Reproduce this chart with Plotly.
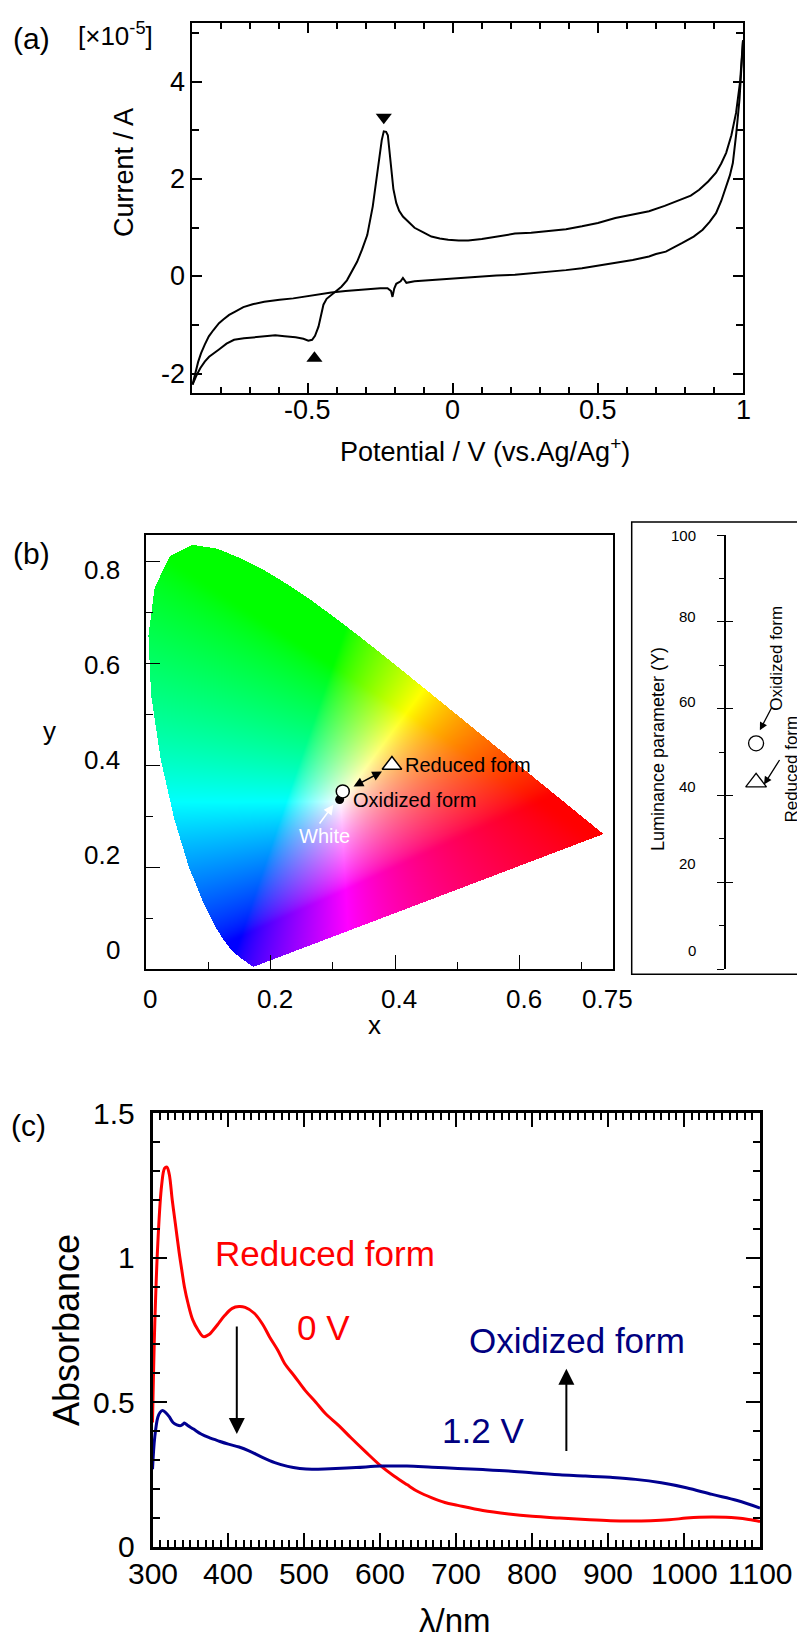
import numpy as np, zlib, struct, base64
import plotly.graph_objects as go

W, H = 797, 1641
FONT = "Liberation Sans, Arial, sans-serif"

# ---------------- (a) cyclic voltammogram (current in 1e-5 A) ----------------
cv_fwd_E = [-0.897, -0.885, -0.87, -0.855, -0.84, -0.82, -0.806, -0.78, -0.754, -0.72, -0.683, -0.65,
            -0.612, -0.58, -0.542, -0.515, -0.498, -0.485, -0.475, -0.463, -0.455, -0.446, -0.435,
            -0.419, -0.40, -0.384, -0.365, -0.348, -0.33, -0.313, -0.295, -0.276, -0.265, -0.253,
            -0.245, -0.238, -0.230, -0.224, -0.213, -0.205, -0.195, -0.185, -0.172, -0.15, -0.132,
            -0.10, -0.074, -0.045, -0.016, 0.02, 0.053, 0.10, 0.15, 0.214, 0.27, 0.33, 0.39, 0.445,
            0.50, 0.56, 0.62, 0.676, 0.73, 0.79, 0.82, 0.849, 0.88, 0.907, 0.925, 0.942, 0.96,
            0.976, 0.99, 1.0]
cv_fwd_I = [-2.22, -2.05, -1.88, -1.75, -1.65, -1.55, -1.50, -1.38, -1.30, -1.27, -1.25, -1.23,
            -1.21, -1.23, -1.25, -1.28, -1.32, -1.30, -1.22, -1.03, -0.80, -0.58, -0.46,
            -0.38, -0.30, -0.21, -0.08, 0.10, 0.30, 0.55, 0.85, 1.44, 1.95, 2.40,
            2.80, 2.98, 2.97, 2.90, 2.26, 1.80, 1.51, 1.35, 1.23, 1.10, 1.00,
            0.90, 0.82, 0.78, 0.755, 0.74, 0.74, 0.77, 0.82, 0.88, 0.90, 0.93, 0.97, 1.03,
            1.10, 1.20, 1.27, 1.34, 1.45, 1.58, 1.66, 1.78, 1.95, 2.13, 2.32, 2.54, 2.90,
            3.36, 4.0, 4.85]
cv_rev_E = [1.0, 0.994, 0.988, 0.977, 0.965, 0.955, 0.942, 0.925, 0.907, 0.885, 0.861, 0.83,
            0.791, 0.76, 0.734, 0.70, 0.676, 0.62, 0.561, 0.50, 0.445, 0.39, 0.33, 0.27, 0.214,
            0.15, 0.099, 0.04, -0.016, -0.07, -0.132, -0.16, -0.172, -0.18, -0.195, -0.202,
            -0.208, -0.213, -0.225, -0.25, -0.29, -0.331, -0.37, -0.419, -0.46, -0.509, -0.55,
            -0.597, -0.65, -0.69, -0.722, -0.75, -0.771, -0.79, -0.806, -0.825, -0.841, -0.855,
            -0.868, -0.878, -0.885, -0.892, -0.897]
cv_rev_I = [4.85, 4.3, 3.64, 2.95, 2.33, 2.08, 1.85, 1.55, 1.30, 1.12, 0.96, 0.82,
            0.69, 0.59, 0.51, 0.46, 0.41, 0.34, 0.28, 0.22, 0.17, 0.13, 0.10, 0.07, 0.035,
            0.02, 0.0, -0.03, -0.05, -0.08, -0.10, -0.13, -0.03, -0.10, -0.15, -0.25,
            -0.42, -0.30, -0.24, -0.24, -0.26, -0.27, -0.30, -0.33, -0.37, -0.41, -0.45,
            -0.48, -0.52, -0.57, -0.63, -0.72, -0.79, -0.88, -0.96, -1.10, -1.23, -1.40,
            -1.58, -1.76, -1.92, -2.08, -2.22]
ox_peak_E, ox_peak_I = [-0.238], [3.27]
red_peak_E, red_peak_I = [-0.477], [-1.68]
a_xticks = [-0.5, 0, 0.5, 1]
a_xlabels = ["-0.5", "0", "0.5", "1"]
a_yticks = [-2, 0, 2, 4]
a_ylabels = ["-2", "0", "2", "4"]

# ---------------- (b) CIE 1931 chromaticity ----------------
locus_x = [0.1741, 0.1740, 0.1738, 0.1736, 0.1733, 0.1730, 0.1726, 0.1721, 0.1714, 0.1703, 0.1689,
           0.1669, 0.1644, 0.1611, 0.1566, 0.1510, 0.1440, 0.1355, 0.1241, 0.1096, 0.0913, 0.0687,
           0.0454, 0.0235, 0.0082, 0.0039, 0.0139, 0.0389, 0.0743, 0.1142, 0.1547, 0.1929, 0.2296,
           0.2658, 0.3016, 0.3373, 0.3731, 0.4087, 0.4441, 0.4788, 0.5125, 0.5448, 0.5752, 0.6029,
           0.6270, 0.6482, 0.6658, 0.6801, 0.6915, 0.7006, 0.7079, 0.7140, 0.7190, 0.7230, 0.7260,
           0.7283, 0.7300, 0.7311, 0.7320, 0.7334, 0.7344, 0.7347]
locus_y = [0.0050, 0.0050, 0.0049, 0.0049, 0.0048, 0.0048, 0.0048, 0.0048, 0.0051, 0.0058, 0.0069,
           0.0086, 0.0109, 0.0138, 0.0177, 0.0227, 0.0297, 0.0399, 0.0578, 0.0868, 0.1327, 0.2007,
           0.2950, 0.4127, 0.5384, 0.6548, 0.7502, 0.8120, 0.8338, 0.8262, 0.8059, 0.7816, 0.7543,
           0.7243, 0.6923, 0.6589, 0.6245, 0.5896, 0.5547, 0.5202, 0.4866, 0.4544, 0.4242, 0.3965,
           0.3725, 0.3514, 0.3340, 0.3197, 0.3083, 0.2993, 0.2920, 0.2859, 0.2809, 0.2770, 0.2740,
           0.2717, 0.2700, 0.2689, 0.2680, 0.2666, 0.2656, 0.2653]
white_xy = [0.311, 0.333]
oxidized_xy = [0.316, 0.349]
reduced_xy = [0.395, 0.401]
lum_Y_oxidized = 52
lum_Y_reduced = 43
b_xticks = [0, 0.2, 0.4, 0.6, 0.75]
b_xlabels = ["0", "0.2", "0.4", "0.6", "0.75"]
b_yticks = [0, 0.2, 0.4, 0.6, 0.8]
b_ylabels = ["0", "0.2", "0.4", "0.6", "0.8"]
lum_ticks = [0, 20, 40, 60, 80, 100]
lum_labels = ["0", "20", "40", "60", "80", "100"]

# ---------------- (c) absorption spectra ----------------
wl_red = [300, 303, 307, 312, 316, 319, 322, 326, 330, 335, 339, 342, 347, 353, 360, 367, 375, 380,
          387, 395, 405, 414, 422, 434, 445, 454, 465, 474, 487, 501, 515, 528, 545, 561, 580, 601,
          618, 635, 650, 668, 685, 702, 735, 769, 800, 836, 870, 903, 930, 956, 980, 1003, 1020,
          1037, 1055, 1070, 1085, 1100]
abs_red = [0.43, 0.77, 1.05, 1.25, 1.31, 1.314, 1.29, 1.20, 1.12, 1.02, 0.95, 0.90, 0.84, 0.785,
           0.75, 0.727, 0.735, 0.75, 0.773, 0.80, 0.825, 0.831, 0.828, 0.808, 0.77, 0.727, 0.68,
           0.634, 0.59, 0.541, 0.50, 0.46, 0.42, 0.378, 0.33, 0.279, 0.245, 0.215, 0.19, 0.169,
           0.153, 0.143, 0.125, 0.113, 0.105, 0.099, 0.094, 0.09, 0.089, 0.09, 0.093, 0.099, 0.102,
           0.103, 0.102, 0.099, 0.094, 0.0875]
wl_blue = [300, 303, 307, 310, 313, 317, 322, 327, 332, 337, 340, 342, 346, 354, 364, 374, 388, 400,
           414, 427, 444, 461, 478, 494, 510, 534, 568, 601, 635, 668, 702, 735, 769, 802, 836, 870,
           903, 936, 970, 1003, 1037, 1070, 1100]
abs_blue = [0.268, 0.38, 0.448, 0.465, 0.471, 0.465, 0.45, 0.43, 0.422, 0.419, 0.424, 0.428, 0.42,
            0.407, 0.39, 0.378, 0.365, 0.355, 0.345, 0.332, 0.31, 0.291, 0.278, 0.271, 0.268, 0.27,
            0.274, 0.279, 0.279, 0.275, 0.271, 0.267, 0.262, 0.255, 0.249, 0.245, 0.240, 0.233,
            0.221, 0.204, 0.181, 0.16, 0.134]
c_xticks = [300, 400, 500, 600, 700, 800, 900, 1000, 1100]
c_yticks = [0, 0.5, 1, 1.5]
c_ylabels = ["0", "0.5", "1", "1.5"]


def px(x):
    return x / W


def py(y):
    return 1 - y / H


# ---------------- CIE background image ----------------
CIE_XR, CIE_YR = [0, 0.75], [0, 0.853]
NX, NY = 467, 434
gx = (np.arange(NX) + 0.5) / NX * CIE_XR[1]
gy = CIE_YR[1] - (np.arange(NY) + 0.5) / NY * CIE_YR[1]
X, Y = np.meshgrid(gx, gy)
poly = np.array(list(zip(locus_x, locus_y)))
inside = np.zeros(X.shape, bool)
n = len(poly)
for i in range(n):
    x1, y1 = poly[i]
    x2, y2 = poly[(i + 1) % n]
    if y1 == y2:
        continue
    cond = ((y1 > Y) != (y2 > Y)) & (X < (x2 - x1) * (Y - y1) / (y2 - y1) + x1)
    inside ^= cond
Ys = np.maximum(Y, 1e-4)
Xv = X / Ys
Zv = (1 - X - Y) / Ys
r = 3.2406 * Xv - 1.5372 - 0.4986 * Zv
g = -0.9689 * Xv + 1.8758 + 0.0415 * Zv
b = 0.0557 * Xv - 0.2040 + 1.0570 * Zv
rgb = np.clip(np.stack([r, g, b], -1), 0, None)
rgb = rgb / np.maximum(rgb.max(-1, keepdims=True), 1e-9)
rgb = rgb ** 1.5
rgb = np.where(rgb <= 0.0031308, 12.92 * rgb, 1.055 * np.power(rgb, 1 / 2.4) - 0.055)
rgba = np.zeros((NY, NX, 4), np.uint8)
rgba[..., :3] = np.clip(rgb * 255 + 0.5, 0, 255).astype(np.uint8)
rgba[..., 3] = np.where(inside, 255, 0)


def png_uri(arr):
    h, w, _ = arr.shape
    raw = b"".join(b"\x00" + arr[i].tobytes() for i in range(h))

    def chunk(t, d):
        return struct.pack(">I", len(d)) + t + d + struct.pack(">I", zlib.crc32(t + d) & 0xffffffff)

    data = (b"\x89PNG\r\n\x1a\n" + chunk(b"IHDR", struct.pack(">IIBBBBB", w, h, 8, 6, 0, 0, 0))
            + chunk(b"IDAT", zlib.compress(raw, 9)) + chunk(b"IEND", b""))
    return "data:image/png;base64," + base64.b64encode(data).decode()


fig = go.Figure()

# (a)
fig.add_trace(go.Scatter(x=cv_fwd_E, y=cv_fwd_I, mode="lines", line=dict(color="black", width=2),
                         xaxis="x", yaxis="y"))
fig.add_trace(go.Scatter(x=cv_rev_E, y=cv_rev_I, mode="lines", line=dict(color="black", width=2),
                         xaxis="x", yaxis="y"))
fig.add_trace(go.Scatter(x=ox_peak_E, y=ox_peak_I, mode="markers",
                         marker=dict(symbol="triangle-down", size=14, color="black"), xaxis="x", yaxis="y"))
fig.add_trace(go.Scatter(x=red_peak_E, y=red_peak_I, mode="markers",
                         marker=dict(symbol="triangle-up", size=14, color="black"), xaxis="x", yaxis="y"))

# (b) CIE points
fig.add_trace(go.Scatter(x=[white_xy[0]], y=[white_xy[1]], mode="markers",
                         marker=dict(symbol="circle", size=9, color="black"), xaxis="x2", yaxis="y2"))
fig.add_trace(go.Scatter(x=[oxidized_xy[0]], y=[oxidized_xy[1]], mode="markers",
                         marker=dict(symbol="circle", size=13, color="white", line=dict(color="black", width=1.5)),
                         xaxis="x2", yaxis="y2"))
fig.add_trace(go.Scatter(x=[reduced_xy[0]], y=[reduced_xy[1]], mode="markers",
                         marker=dict(symbol="triangle-up", size=17, color="white", line=dict(color="black", width=1.5)),
                         xaxis="x2", yaxis="y2"))

# (b) luminance
fig.add_trace(go.Scatter(x=[0.752], y=[lum_Y_oxidized], mode="markers",
                         marker=dict(symbol="circle-open", size=15, color="black", line=dict(width=1.3)),
                         xaxis="x3", yaxis="y3"))
fig.add_trace(go.Scatter(x=[0.752], y=[lum_Y_reduced], mode="markers",
                         marker=dict(symbol="triangle-up-open", size=18, color="black", line=dict(width=1.3)),
                         xaxis="x3", yaxis="y3"))
fig.add_trace(go.Scatter(x=[None], y=[None], xaxis="x3", yaxis="y4", hoverinfo="skip"))

# (c)
fig.add_trace(go.Scatter(x=wl_red, y=abs_red, mode="lines", line=dict(color="#ff0000", width=3, shape="spline"),
                         xaxis="x4", yaxis="y6"))
fig.add_trace(go.Scatter(x=wl_blue, y=abs_blue, mode="lines", line=dict(color="#000090", width=3, shape="spline"),
                         xaxis="x4", yaxis="y6"))

common = dict(showgrid=False, zeroline=False, linecolor="black", tickcolor="black", automargin=False,
              showticklabels=False)

layout = dict(
    template="none",
    width=W, height=H, autosize=False, margin=dict(l=0, r=0, t=0, b=0, pad=0),
    paper_bgcolor="white", plot_bgcolor="rgba(0,0,0,0)", showlegend=False,
    font=dict(family=FONT, color="black"),
    xaxis=dict(**common, domain=[px(191.7), px(743)], range=[-0.9, 1.0], anchor="y",
               showline=True, linewidth=2, mirror="allticks", ticks="inside", tick0=0, dtick=0.5,
               ticklen=10, tickwidth=1.5, minor=dict(dtick=0.1, ticklen=6, tickwidth=1.5, ticks="inside")),
    yaxis=dict(**common, domain=[py(393.3), py(23.3)], range=[-2.4, 5.2], anchor="x",
               showline=True, linewidth=2, mirror="allticks", ticks="inside", tick0=0, dtick=2,
               ticklen=10, tickwidth=1.5, minor=dict(dtick=1, ticklen=7, tickwidth=1.5, ticks="inside")),
    xaxis2=dict(**common, domain=[px(146), px(613)], range=CIE_XR, anchor="y2",
                showline=True, linewidth=1.5, mirror=True, ticks="inside",
                tickvals=b_xticks, ticklen=14, tickwidth=1.3,
                minor=dict(tickvals=[0.1, 0.3, 0.5, 0.7], ticklen=7, tickwidth=1.3, ticks="inside")),
    yaxis2=dict(**common, domain=[py(969), py(535)], range=CIE_YR, anchor="x2",
                showline=True, linewidth=1.5, mirror=True, ticks="inside", tickvals=b_yticks,
                ticklen=14, tickwidth=1.3, minor=dict(dtick=0.1, ticklen=7, tickwidth=1.3, ticks="inside")),
    xaxis3=dict(domain=[px(632), 1], range=[0, 1], anchor="y3", visible=False, automargin=False),
    yaxis3=dict(**common, domain=[py(969), py(535)], range=[0, 100], anchor="free", position=px(725),
                showline=True, linewidth=1.5, ticks="outside", tickvals=lum_ticks,
                ticklen=7, tickwidth=1.3,
                minor=dict(tickvals=[10, 30, 50, 70, 90], ticklen=5, tickwidth=1.3, ticks="outside")),
    yaxis4=dict(**common, overlaying="y3", range=[0, 100], anchor="free", position=px(725),
                showline=False, ticks="inside", tickvals=lum_ticks, ticklen=7, tickwidth=1.3),
    xaxis4=dict(**common, domain=[px(152.5), px(760)], range=[300, 1100], anchor="y6",
                showline=True, linewidth=3, mirror="allticks", ticks="inside", tick0=0, dtick=100,
                ticklen=14, tickwidth=2, minor=dict(dtick=10, ticklen=7, tickwidth=1.5, ticks="inside")),
    yaxis6=dict(**common, domain=[py(1546.7), py(1113.3)], range=[0, 1.5], anchor="x4",
                showline=True, linewidth=3, mirror="allticks", ticks="inside", tick0=0, dtick=0.5,
                ticklen=14, tickwidth=2, minor=dict(dtick=0.1, ticklen=7, tickwidth=1.5, ticks="inside")),
)
fig.update_layout(**layout)

fig.add_layout_image(dict(source=png_uri(rgba), xref="x2", yref="y2", x=0, y=CIE_YR[1],
                          sizex=CIE_XR[1], sizey=CIE_YR[1], xanchor="left", yanchor="top",
                          sizing="stretch", layer="below"))

fig.add_shape(type="rect", xref="paper", yref="paper", x0=px(631.7), x1=px(805), y0=py(974.3), y1=py(522),
              line=dict(color="black", width=1.5))


def txt(text, x, y, size, color="black", xanchor="center", yanchor="middle", angle=0):
    fig.add_annotation(text=text, x=px(x), y=py(y), xref="paper", yref="paper", showarrow=False,
                       xanchor=xanchor, yanchor=yanchor, textangle=angle,
                       font=dict(family=FONT, size=size, color=color))


def fnt(size):
    return dict(family=FONT, size=size, color="black")


# ---- tick labels placed on the axes' own scales ----
for v, s in zip(a_xticks, a_xlabels):
    fig.add_annotation(text=s, x=v, xref="x", y=py(410), yref="paper", showarrow=False,
                       xanchor="center", yanchor="middle", font=fnt(27))
for v, s in zip(a_yticks, a_ylabels):
    fig.add_annotation(text=s, y=v, yref="y", x=px(187), xref="paper", showarrow=False,
                       xanchor="right", yanchor="middle", font=fnt(27))
for v, s in zip(b_xticks, b_xlabels):
    fig.add_annotation(text=s, x=v, xref="x2", y=py(999), yref="paper", showarrow=False,
                       xanchor="center", yanchor="middle", font=fnt(26),
                       xshift=-6 if v == 0.75 else 4)
for v, s in zip(b_yticks, b_ylabels):
    fig.add_annotation(text=s, y=v, yref="y2", x=px(122), xref="paper", showarrow=False,
                       xanchor="right", yanchor="middle", font=fnt(26),
                       yshift=5.6 - (v - 0.4) * 33)
lum_label_px = [950, 863.3, 786.7, 701.7, 616.7, 535]
for s, ypx in zip(lum_labels, lum_label_px):
    fig.add_annotation(text=s, x=px(698), xref="paper", y=py(ypx), yref="paper", showarrow=False,
                       xanchor="right", yanchor="middle", font=fnt(15))
for v in c_xticks:
    fig.add_annotation(text=str(v), x=v, xref="x4", y=py(1573), yref="paper", showarrow=False,
                       xanchor="center", yanchor="middle", font=fnt(30))
for v, s in zip(c_yticks, c_ylabels):
    fig.add_annotation(text=s, y=v, yref="y6", x=px(137), xref="paper", showarrow=False,
                       xanchor="right", yanchor="middle", font=fnt(30))

# panel labels & titles
txt("(a)", 32, 38, 30)
txt("[×10<sup>-5</sup>]", 115, 34, 26)
txt("Current / A", 124, 173, 27, angle=-90)
txt("Potential / V (vs.Ag/Ag<sup>+</sup>)", 485, 450, 27)
txt("(b)", 31, 553, 30)
txt("y", 49, 731, 26)
txt("x", 374, 1025, 26)
txt("Luminance parameter (Y)", 658, 749, 18, angle=-90)
txt("(c)", 28, 1125, 30)
txt("Absorbance", 66, 1330, 36, angle=-90)
txt("λ/nm", 455, 1620, 33)
txt("Reduced form", 213, 1253, 35, color="#ff0000", xanchor="left")
txt("0 V", 295, 1327, 35, color="#ff0000", xanchor="left")
txt("Oxidized form", 467, 1340, 35, color="#000080", xanchor="left")
txt("1.2 V", 440, 1430, 35, color="#000080", xanchor="left")

# CIE labels & arrows
fig.add_annotation(text="Reduced form", x=0.412, y=0.400, xref="x2", yref="y2", showarrow=False,
                   xanchor="left", font=fnt(20))
fig.add_annotation(text="Oxidized form", x=0.329, y=0.333, xref="x2", yref="y2", showarrow=False,
                   xanchor="left", font=fnt(20))
fig.add_annotation(text="White", x=0.243, y=0.261, xref="x2", yref="y2", showarrow=False,
                   xanchor="left", font=dict(family=FONT, size=20, color="white"))
fig.add_annotation(text="", x=0.379, y=0.388, ax=0.331, ay=0.357, xref="x2", yref="y2",
                   axref="x2", ayref="y2", showarrow=True, arrowside="end+start", arrowhead=2,
                   arrowsize=1.3, arrowwidth=1.5, arrowcolor="black")
fig.add_annotation(text="", x=0.301, y=0.323, ax=0.277, ay=0.283, xref="x2", yref="y2",
                   axref="x2", ayref="y2", showarrow=True, arrowhead=2, arrowsize=1.3,
                   arrowwidth=1.5, arrowcolor="white")

# luminance labels & arrows
fig.add_annotation(text="Oxidized form", x=0.879, y=71.5, xref="x3", yref="y3", showarrow=False,
                   textangle=-90, font=fnt(17))
fig.add_annotation(text="Reduced form", x=0.965, y=46, xref="x3", yref="y3", showarrow=False,
                   textangle=-90, font=fnt(17))
fig.add_annotation(text="", x=0.775, y=55.0, ax=0.85, ay=60.5, xref="x3", yref="y3",
                   axref="x3", ayref="y3", showarrow=True, arrowhead=2, arrowsize=1.2,
                   arrowwidth=1.3, arrowcolor="black")
fig.add_annotation(text="", x=0.80, y=42.5, ax=0.90, ay=48.5, xref="x3", yref="y3",
                   axref="x3", ayref="y3", showarrow=True, arrowhead=2, arrowsize=1.2,
                   arrowwidth=1.3, arrowcolor="black")

# (c) arrows
fig.add_annotation(text="", x=411, y=0.39, ax=411, ay=0.767, xref="x4", yref="y6",
                   axref="x4", ayref="y6", showarrow=True, arrowhead=2, arrowsize=1.6,
                   arrowwidth=2, arrowcolor="black")
fig.add_annotation(text="", x=845, y=0.616, ax=845, ay=0.326, xref="x4", yref="y6",
                   axref="x4", ayref="y6", showarrow=True, arrowhead=2, arrowsize=1.6,
                   arrowwidth=2, arrowcolor="black")

fig.write_html("out.html", config={"displayModeBar": False},
               post_script="document.body.style.margin='0';document.body.style.overflow='hidden';")
